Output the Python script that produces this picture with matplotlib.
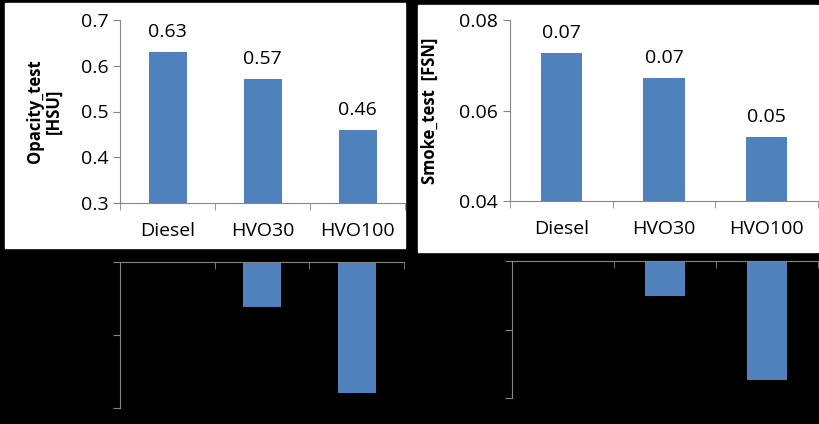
import matplotlib
matplotlib.use("Agg")
import matplotlib.pyplot as plt
from matplotlib.patches import Rectangle

categories = ["Diesel", "HVO30", "HVO100"]
opacity = [0.63, 0.57, 0.46]
opacity_labels = ["0.63", "0.57", "0.46"]
smoke = [0.0727, 0.0672, 0.0541]
smoke_labels = ["0.07", "0.07", "0.05"]
opacity_change = [0.0, -6.1, -17.9]
smoke_change = [0.0, -5.1, -17.3]

W, H = 819, 424
plt.rcParams["font.family"] = "Open Sans"
fig = plt.figure(figsize=(W/100, H/100), dpi=100, facecolor="black")

def fr(x0, y0, x1, y1):
    return [x0/W, 1-y1/H, (x1-x0)/W, (y1-y0)/H]

fig.patches.append(Rectangle((5/W, 1-248/H), 400/W, 245/H, transform=fig.transFigure, color="white", zorder=-10))
fig.patches.append(Rectangle((418/W, 1-252/H), 400/W, 247/H, transform=fig.transFigure, color="white", zorder=-10))

blue = "#4F81BD"
gray = "#868686"
x = range(len(categories))

def style(ax, top=False):
    ax.set_facecolor("none")
    for s in ["top", "right", "bottom", "left"]:
        ax.spines[s].set_visible(False)
    ax.spines["left"].set_visible(True)
    ax.spines["left"].set_color(gray)
    key = "top" if top else "bottom"
    ax.spines[key].set_visible(True)
    ax.spines[key].set_color(gray)
    ax.set_xlim(-0.5, 2.5)
    ax.set_xticks([-0.5, 0.5, 1.5, 2.5], minor=True)
    ax.tick_params(axis="x", which="minor", length=5, color=gray, bottom=not top, top=top)
    ax.tick_params(axis="y", length=5, color=gray)

for rect, vals, labs, ylim, yt, ylab, lx in [
        (fr(120, 20, 405, 203), opacity, opacity_labels, (0.3, 0.7), [0.3, 0.4, 0.5, 0.6, 0.7], "Opacity_test\n[HSU]", 0.054),
        (fr(510, 20, 818, 201), smoke, smoke_labels, (0.04, 0.08), [0.04, 0.06, 0.08], "Smoke_test  [FSN]", 0.525)]:
    ax = fig.add_axes(rect, zorder=1)
    style(ax)
    ax.bar(x, [v - ylim[0] for v in vals], bottom=ylim[0], width=0.4, color=blue)
    ax.set_ylim(*ylim)
    ax.set_yticks(yt)
    if ylim[0] == 0.3:
        ax.set_yticklabels([f"{t:.1f}" for t in yt])
    else:
        ax.set_yticklabels([f"{t:.2f}" for t in yt])
    ax.set_xticks(list(x))
    ax.set_xticklabels(categories)
    ax.tick_params(axis="x", which="major", length=0, pad=14, labelsize=14)
    ax.tick_params(axis="y", labelsize=14)
    for xi, v, l in zip(x, vals, labs):
        ax.annotate(l, (xi, v), xytext=(0, 8), textcoords="offset points", ha="center", va="bottom", fontsize=14)
    fig.text(lx, rect[1] + rect[3]/2, ylab, rotation=90, ha="center", va="center", fontsize=12, fontweight="bold", linespacing=1.0, zorder=5)

for rect, vals in [(fr(120, 262, 404, 408), opacity_change), (fr(512, 261, 818, 398), smoke_change)]:
    ax = fig.add_axes(rect, zorder=1)
    style(ax, top=False)
    ax.spines["bottom"].set_visible(False)
    ax.spines["top"].set_visible(True)
    ax.spines["top"].set_color(gray)
    ax.tick_params(axis="x", which="minor", top=True, bottom=False, direction="in", length=5)
    ax.bar(x, vals, width=0.4, color=blue)
    ax.set_ylim(-20, 0)
    ax.set_yticks([-20, -10, 0])
    ax.set_xticks([])
    ax.tick_params(axis="y", labelcolor="black", labelsize=1)

fig.savefig("out.png", dpi=100, facecolor="black")
